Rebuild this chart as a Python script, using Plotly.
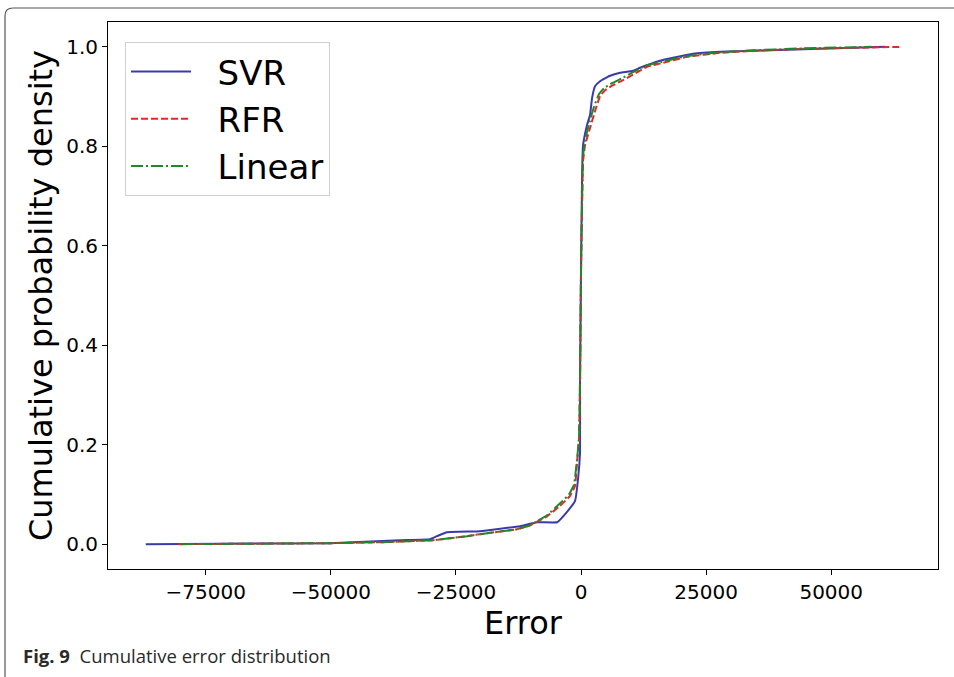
import plotly.graph_objects as go

# ---- data ----
svr_x = [-87000, -50200, -36200, -30200, -28800, -26800, -20200, -12200, -8800, -4800,
         -2800, -1200, -600, -200, -200, 0, 200, 400, 1200, 1800, 2200, 2800, 3800,
         5800, 7800, 10400, 11800, 15800, 18400, 22400, 27800, 34400, 41200, 47800,
         54400, 60800]
svr_y = [0.000, 0.002, 0.008, 0.010, 0.016, 0.024, 0.026, 0.036, 0.044, 0.044,
         0.065, 0.087, 0.131, 0.185, 0.333, 0.550, 0.736, 0.802, 0.843, 0.863, 0.897,
         0.921, 0.931, 0.942, 0.948, 0.952, 0.958, 0.972, 0.978, 0.986, 0.990, 0.992,
         0.994, 0.996, 0.998, 1.000]

rfr_x = [-80600, -50000, -39600, -29600, -22800, -20200, -12800, -10200, -6800, -4200,
         -2200, -1200, -800, -400, -200, 0, 400, 800, 1800, 2800, 3800, 4800, 6400,
         8400, 10400, 13200, 16400, 21200, 27800, 34400, 44400, 54400, 63800]
rfr_y = [0.000, 0.002, 0.004, 0.008, 0.016, 0.020, 0.030, 0.038, 0.056, 0.077,
         0.097, 0.117, 0.165, 0.212, 0.333, 0.550, 0.770, 0.802, 0.837, 0.871, 0.901,
         0.913, 0.923, 0.933, 0.944, 0.960, 0.968, 0.980, 0.988, 0.992, 0.996, 0.998,
         1.000]

lin_x = [-80000, -50000, -39600, -29600, -22800, -20200, -12800, -10200, -6800, -4400,
         -2400, -1400, -800, -400, -200, 0, 400, 800, 1600, 2600, 3600, 4600, 6200,
         8200, 10200, 13000, 16200, 21000, 27600, 34400, 44400, 58000]
lin_y = [0.000, 0.002, 0.004, 0.008, 0.016, 0.020, 0.030, 0.038, 0.058, 0.080,
         0.100, 0.120, 0.170, 0.215, 0.333, 0.560, 0.780, 0.812, 0.845, 0.880, 0.905,
         0.917, 0.927, 0.937, 0.948, 0.962, 0.970, 0.981, 0.989, 0.993, 0.997, 1.000]

x_ticks = [-75000, -50000, -25000, 0, 25000, 50000]
x_tick_labels = ["\u221275000", "\u221250000", "\u221225000", "0", "25000", "50000"]
y_ticks = [0.0, 0.2, 0.4, 0.6, 0.8, 1.0]
y_tick_labels = ["0.0", "0.2", "0.4", "0.6", "0.8", "1.0"]

series_names = ["SVR", "RFR", "Linear"]

FONT = "DejaVu Sans"
PAD = "\u00a0\u00a0"

fig = go.Figure()
fig.add_trace(go.Scatter(x=svr_x, y=svr_y, mode="lines", name=PAD + series_names[0],
                         line=dict(color="#3a3aad", width=2, shape="spline", smoothing=0.3)))
fig.add_trace(go.Scatter(x=rfr_x, y=rfr_y, mode="lines", name=PAD + series_names[1],
                         line=dict(color="#e02a2a", width=2, dash="7px,3px",
                                   shape="spline", smoothing=0.3)))
fig.add_trace(go.Scatter(x=lin_x, y=lin_y, mode="lines", name=PAD + series_names[2],
                         line=dict(color="#23862a", width=2, dash="12px,3px,2px,3px",
                                   shape="spline", smoothing=0.3)))

L, R, T, B = 108, 16, 22, 108
W, H = 954, 677
pw = W - L - R
ph = H - T - B


def px(xp):
    return (xp - L) / pw


def py(yp):
    return (H - B - yp) / ph


fig.update_layout(
    width=W, height=H,
    margin=dict(l=L, r=R, t=T, b=B, pad=0),
    paper_bgcolor="white", plot_bgcolor="white",
    font=dict(family=FONT, color="black"),
    showlegend=True,
    legend=dict(
        x=px(125), y=py(42), xanchor="left", yanchor="top",
        bgcolor="rgba(255,255,255,0.8)", bordercolor="#d0d0d0", borderwidth=1,
        font=dict(size=34, family=FONT), itemwidth=60, tracegroupgap=0,
    ),
    xaxis=dict(
        range=[-94540, 71340], tickvals=x_ticks, ticktext=x_tick_labels,
        showgrid=False, zeroline=False, showline=True, linecolor="black",
        linewidth=1, mirror=True, ticks="outside", ticklen=5, tickcolor="black",
        tickfont=dict(size=20, family=FONT),
        title=dict(text="Error", font=dict(size=32, family=FONT), standoff=4),
    ),
    yaxis=dict(
        range=[-0.05, 1.05], tickvals=y_ticks, ticktext=y_tick_labels,
        showgrid=False, zeroline=False, showline=True, linecolor="black",
        linewidth=1, mirror=True, ticks="outside", ticklen=5, tickcolor="black",
        tickfont=dict(size=20, family=FONT),
        title=dict(text="Cumulative probability density",
                   font=dict(size=32, family=FONT), standoff=3),
    ),
)

# outer figure frame (rounded top-left corner)
x0, y0 = px(5), py(8)
r_x, r_y = 8 / pw, 8 / ph
fig.add_shape(
    type="path", xref="paper", yref="paper",
    path=(f"M {x0} {py(677)} L {x0} {y0 - r_y} Q {x0} {y0} {x0 + r_x} {y0} "
          f"L {px(954)} {y0}"),
    line=dict(color="#555555", width=1.2),
)

fig.add_annotation(
    xref="paper", yref="paper", x=px(21), y=py(655), xanchor="left", yanchor="middle",
    text="<b>Fig. 9</b>  Cumulative error distribution", showarrow=False,
    font=dict(family="Open Sans", size=18.5, color="#2a2a2a"),
)

fig.write_html("out.html", config={"displayModeBar": False},
               post_script="document.body.style.margin='0';")
